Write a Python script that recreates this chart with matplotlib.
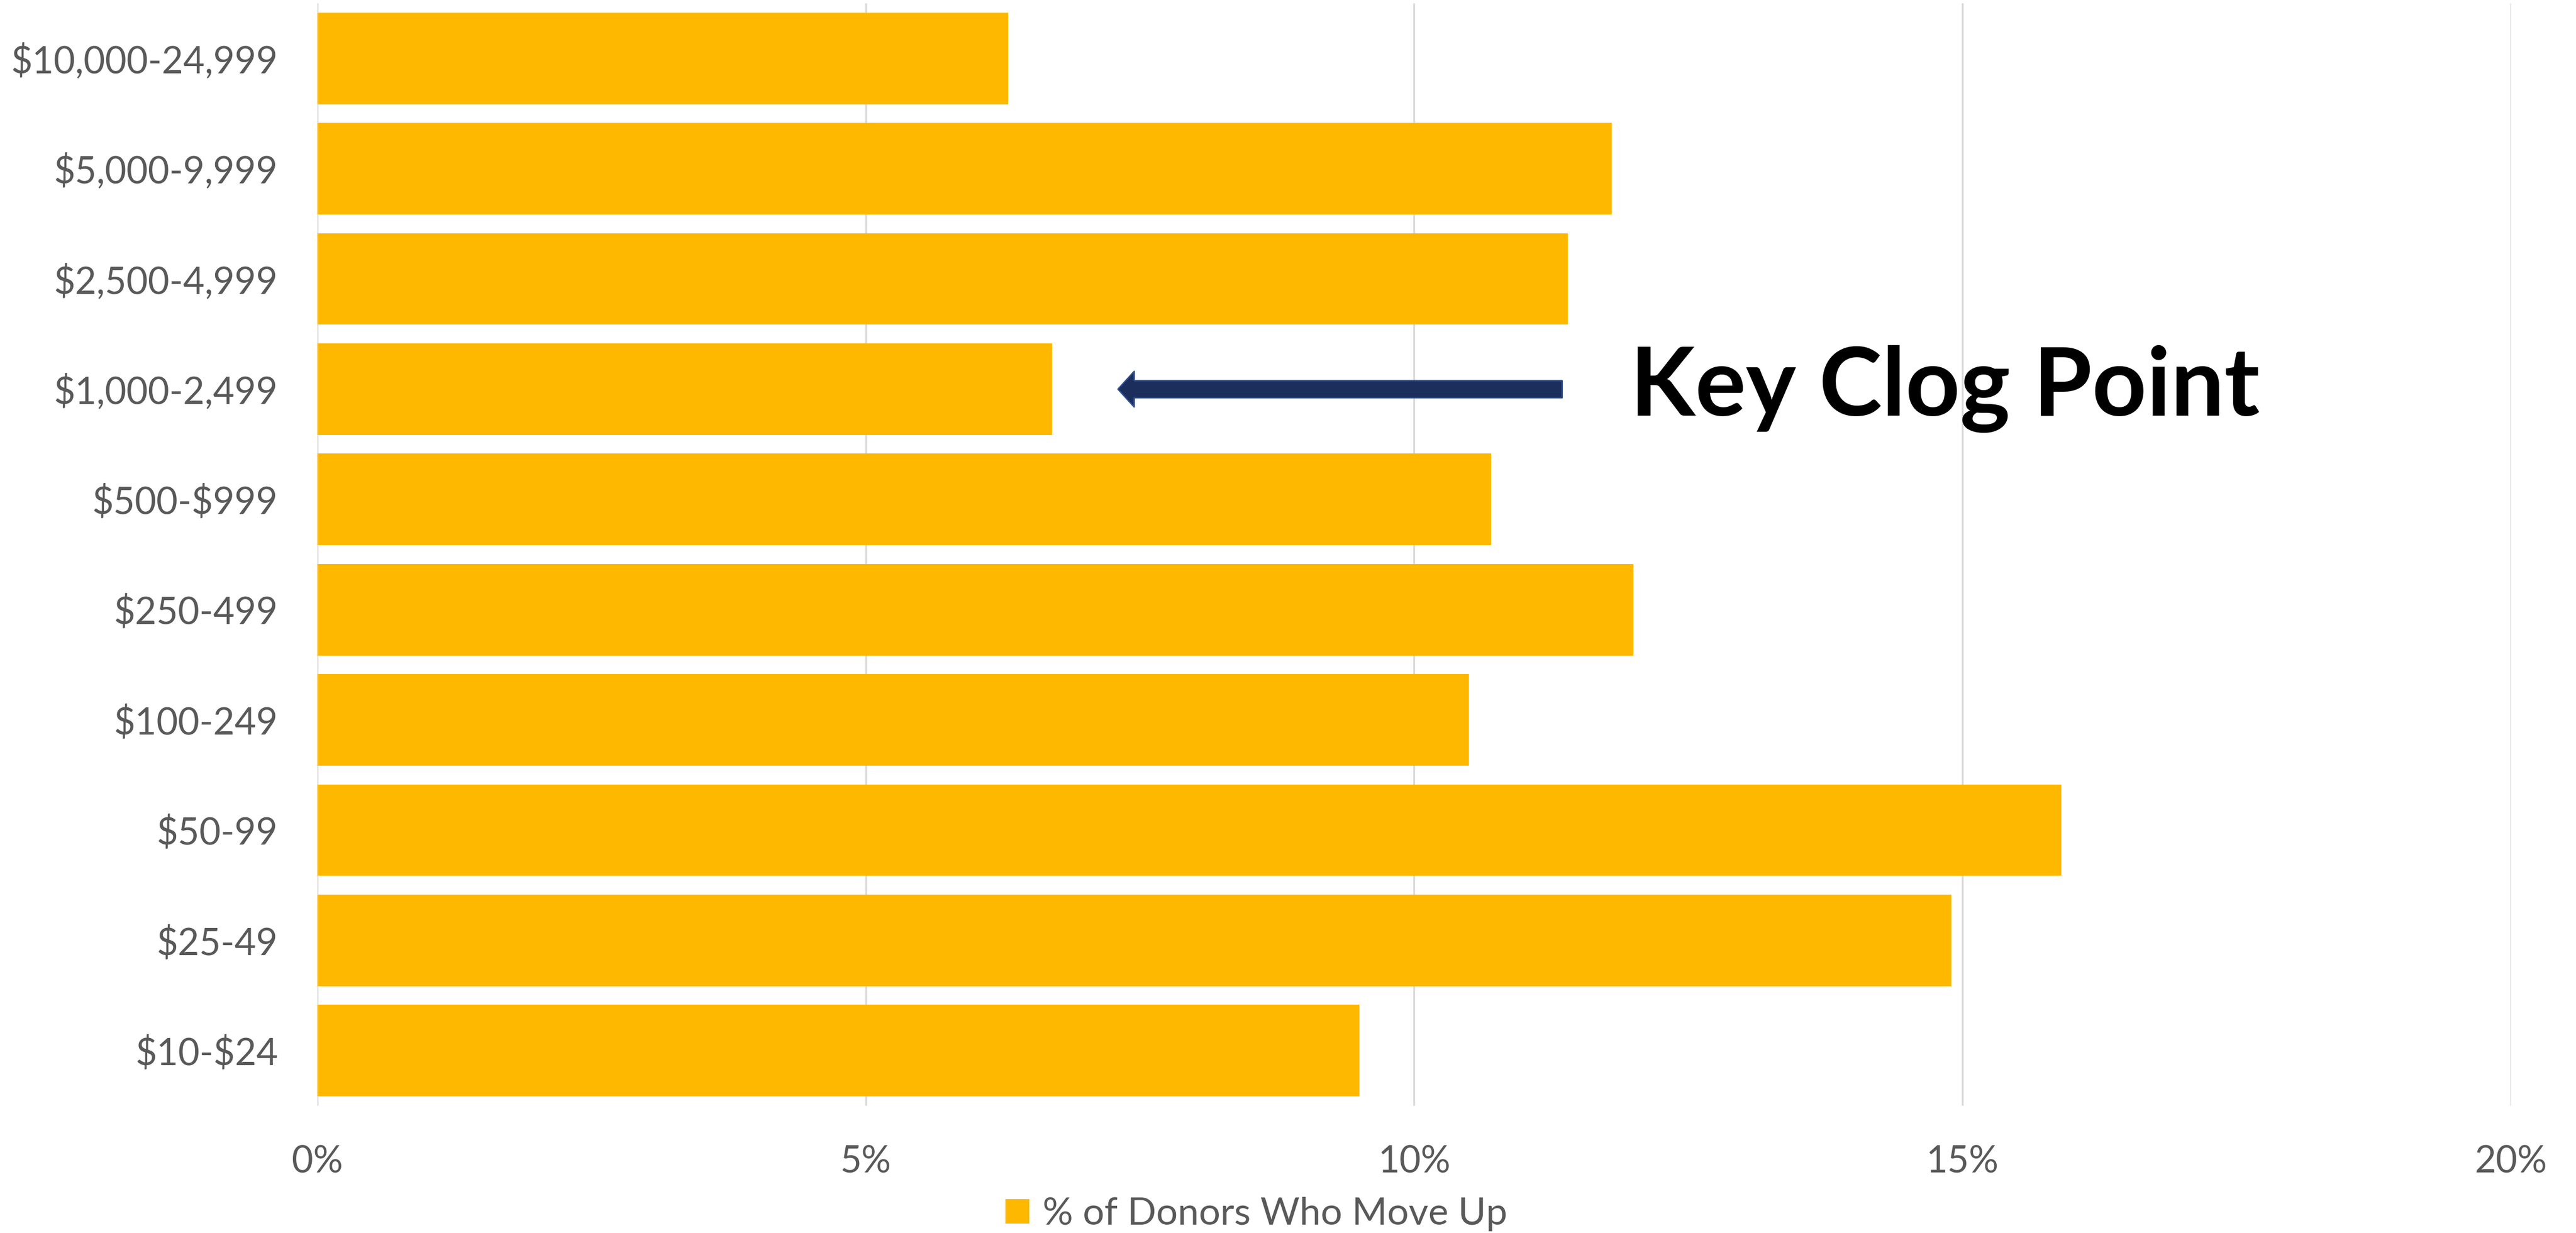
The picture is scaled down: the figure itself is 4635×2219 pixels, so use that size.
import matplotlib.pyplot as plt
from matplotlib.ticker import FuncFormatter

# gift bands, bottom to top as drawn on the y axis
bands = ["$10-$24", "$25-49", "$50-99", "$100-249", "$250-499",
         "$500-$999", "$1,000-2,499", "$2,500-4,999", "$5,000-9,999",
         "$10,000-24,999"]
pct_move_up = [9.5, 14.9, 15.9, 10.5, 12.0, 10.7, 6.7, 11.4, 11.8, 6.3]
series_name = "% of Donors Who Move Up"
x_ticks = [0, 5, 10, 15, 20]

callout_text = "Key Clog Point"
callout_band = "$1,000-2,499"

plt.rcParams['font.family'] = ['Lato', 'DejaVu Sans']
plt.rcParams['text.parse_math'] = False  # dollar signs are literal

fig = plt.figure(figsize=(15.45, 7.3967), dpi=300)
ax = fig.add_axes([0.1232, 0.1032, 0.8515, 0.8941])

ypos = list(range(len(bands)))
ax.barh(ypos, pct_move_up, height=0.83, color="#FFB800", label=series_name, zorder=2)

ax.set_xlim(0, 20)
ax.set_ylim(-0.5, len(bands) - 0.5)
ax.set_xticks(x_ticks)
ax.xaxis.set_major_formatter(FuncFormatter(lambda v, p: f"{v:.0f}%"))
ax.set_yticks(ypos)
ax.set_yticklabels(bands)
ax.tick_params(axis='both', length=0, labelsize=16, labelcolor="#595959")
ax.tick_params(axis='y', pad=17)
ax.tick_params(axis='x', pad=17)

ax.grid(axis='x', color="#d9d9d9", linewidth=0.8, zorder=0)
for s in ["top", "right", "bottom", "left"]:
    ax.spines[s].set_visible(False)

# arrow + callout
yc = bands.index(callout_band)
ax.annotate("", xy=(7.3, yc), xytext=(11.35, yc),
            arrowprops=dict(arrowstyle="simple,head_length=7,head_width=15.4,tail_width=7.4",
                            mutation_scale=1, shrinkA=0, shrinkB=0,
                            facecolor="#1c2e5c", edgecolor="#2e4d8c", linewidth=0.6),
            zorder=3)
ax.text(11.97, yc, callout_text, fontsize=41, fontweight='bold', color="black",
        ha='left', va='center', zorder=3)

fig.legend(loc='center', bbox_to_anchor=(0.4876, 0.0153), frameon=False,
           fontsize=16.4, labelcolor="#595959", handlelength=0.63,
           handleheight=0.62, handletextpad=0.35, borderpad=0, borderaxespad=0)

fig.savefig("out.png", dpi=300)
